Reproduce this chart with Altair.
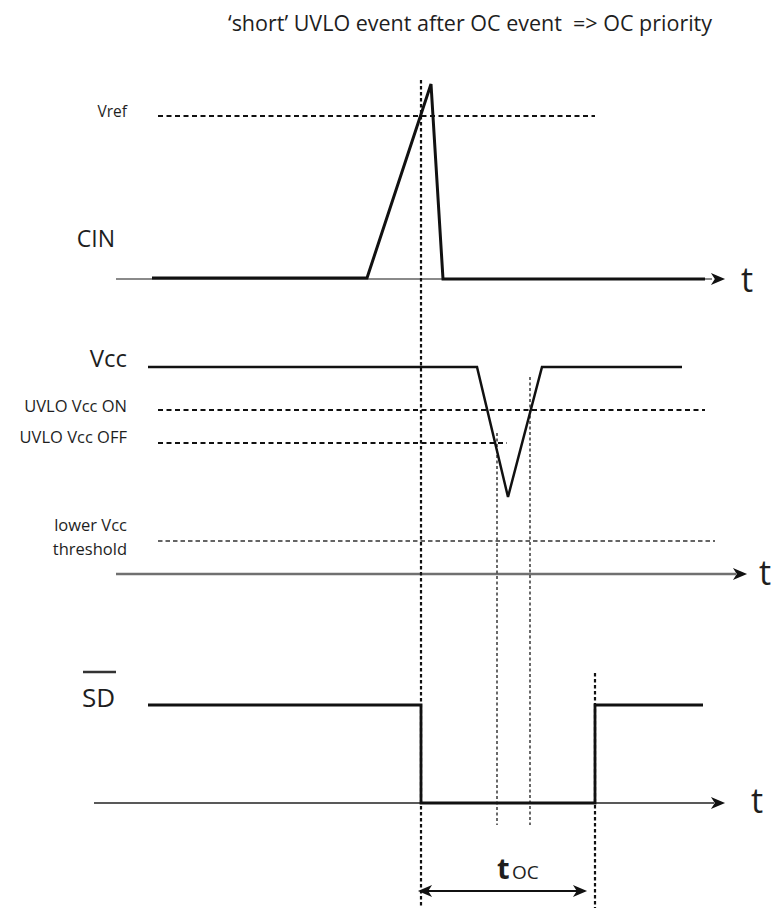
import altair as alt
import pandas as pd

# ---- data (diagram coordinates: time t to the right, level position downward) ----
TITLE = "\u2018short\u2019 UVLO event after OC event\u00a0\u00a0=> OC priority"

CIN_T = [152, 367, 431, 443, 705]
CIN_Y = [278, 278, 84, 279, 279]
VCC_T = [148, 477, 508, 542, 682]
VCC_Y = [367, 367, 497, 367, 367]
SD_T = [148, 421, 421, 595, 595, 703]
SD_Y = [705, 705, 803, 803, 705, 705]

# time axes: name, start, end, level
AXIS_NAMES = ["CIN", "Vcc", "SD"]
AXIS_START = [116, 116, 94]
AXIS_END = [712, 736, 714]
AXIS_Y = [279, 574, 803]
AXIS_TIP = [725, 747, 725]

# thresholds: name, start, end, level
THR_NAMES = ["Vref", "UVLO Vcc ON", "UVLO Vcc OFF", "lower Vcc threshold"]
THR_START = [158, 158, 158, 158]
THR_END = [595, 705, 507, 715]
THR_Y = [116, 410, 443, 541]

# event markers (vertical dotted lines)
EV_T = [421, 497, 530, 595]
EV_Y1 = [80, 433, 377, 673]
EV_Y2 = [923, 825, 825, 923]

# t_OC span
TOC_START = 418
TOC_END = 587
TOC_Y = 891

xs = alt.Scale(domain=[8, 773], nice=False, zero=False)
ys = alt.Scale(domain=[8, 908], reverse=True, nice=False, zero=False)
X = lambda f: alt.X(f, type="quantitative", scale=xs, axis=None)
Y = lambda f: alt.Y(f, type="quantitative", scale=ys, axis=None)

# signals
rows = []
for name, T, V in [("CIN", CIN_T, CIN_Y), ("Vcc", VCC_T, VCC_Y), ("SD", SD_T, SD_Y)]:
    for i, (t, v) in enumerate(zip(T, V)):
        rows.append({"sig": name, "i": i, "t": t, "v": v})
sig_df = pd.DataFrame(rows)

axes_df = pd.DataFrame({"name": AXIS_NAMES, "x1": AXIS_START, "x2": AXIS_END,
                        "y": AXIS_Y, "tip": AXIS_TIP})
axes_df["head"] = axes_df["tip"] - 7

thr_df = pd.DataFrame({"name": THR_NAMES, "x1": THR_START, "x2": THR_END, "y": THR_Y})
ev_df = pd.DataFrame({"t": EV_T, "y1": EV_Y1, "y2": EV_Y2})

arrow = "M 1 0 L -1 -0.85 L -0.45 0 L -1 0.85 Z"

layers = []

# time axes
ax_cin = alt.Chart(axes_df[axes_df.name == "CIN"]).mark_rule(color="#8a8a8a", strokeWidth=1.8).encode(
    x=X("x1"), x2="x2", y=Y("y"))
ax_vcc = alt.Chart(axes_df[axes_df.name == "Vcc"]).mark_rule(color="#707070", strokeWidth=2.6).encode(
    x=X("x1"), x2="x2", y=Y("y"))
ax_sd = alt.Chart(axes_df[axes_df.name == "SD"]).mark_rule(color="#222", strokeWidth=1.6).encode(
    x=X("x1"), x2="x2", y=Y("y"))
heads = alt.Chart(axes_df).mark_point(shape=arrow, filled=True, color="#111", opacity=1, size=200).encode(
    x=X("head"), y=Y("y"))
layers += [ax_cin, ax_vcc, ax_sd, heads]

# thresholds
thr_main = alt.Chart(thr_df[thr_df.name != "lower Vcc threshold"]).mark_rule(
    color="#111", strokeWidth=2.2, strokeDash=[5, 3.5]).encode(x=X("x1"), x2="x2", y=Y("y"))
thr_low = alt.Chart(thr_df[thr_df.name == "lower Vcc threshold"]).mark_rule(
    color="#333", strokeWidth=1.4, strokeDash=[4.5, 3]).encode(x=X("x1"), x2="x2", y=Y("y"))
layers += [thr_main, thr_low]

# event markers
ev_main = alt.Chart(ev_df[ev_df.t.isin([421, 595])]).mark_rule(
    color="#111", strokeWidth=2.2, strokeDash=[3.5, 2.5]).encode(x=X("t"), y=Y("y1"), y2="y2")
ev_thin = alt.Chart(ev_df[ev_df.t.isin([497, 530])]).mark_rule(
    color="#444", strokeWidth=1.6, strokeDash=[3, 2.5]).encode(x=X("t"), y=Y("y1"), y2="y2")
layers += [ev_main, ev_thin]

# signals
sig_cin = alt.Chart(sig_df[sig_df.sig == "CIN"]).mark_line(color="#111", strokeWidth=3).encode(
    x=X("t"), y=Y("v"), order="i:Q")
sig_vcc = alt.Chart(sig_df[sig_df.sig == "Vcc"]).mark_line(color="#111", strokeWidth=2.5).encode(
    x=X("t"), y=Y("v"), order="i:Q")
sig_sd = alt.Chart(sig_df[sig_df.sig == "SD"]).mark_line(color="#111", strokeWidth=2.8).encode(
    x=X("t"), y=Y("v"), order="i:Q")
layers += [sig_cin, sig_vcc, sig_sd]

# t_OC double arrow
toc_df = pd.DataFrame({"x1": [TOC_START + 2], "x2": [TOC_END - 2], "y": [TOC_Y]})
toc_line = alt.Chart(toc_df).mark_rule(color="#111", strokeWidth=2).encode(x=X("x1"), x2="x2", y=Y("y"))
toc_heads_df = pd.DataFrame({"x": [TOC_START + 7, TOC_END - 7], "y": [TOC_Y, TOC_Y], "ang": [180, 0]})
toc_heads = alt.Chart(toc_heads_df).mark_point(shape=arrow, filled=True, color="#111", opacity=1, size=200).encode(
    x=X("x"), y=Y("y"), angle=alt.Angle("ang:Q", scale=None))
layers += [toc_line, toc_heads]

# SD overbar
bar_df = pd.DataFrame({"x1": [83], "x2": [116], "y": [672]})
overbar = alt.Chart(bar_df).mark_rule(color="#333", strokeWidth=2.5).encode(x=X("x1"), x2="x2", y=Y("y"))
layers.append(overbar)

# labels
FONT = "Open Sans"
right_df = pd.DataFrame({
    "text": ["Vref", "CIN", "Vcc", "UVLO Vcc ON", "UVLO Vcc OFF", "lower Vcc", "threshold"],
    "x": [127, 115, 127, 127, 127, 127, 127],
    "y": [117, 247, 367, 412, 443, 531, 555],
    "fs": [15.5, 23, 24, 16.5, 16.5, 16.5, 16.5],
})
right_txt = alt.Chart(right_df).mark_text(align="right", baseline="alphabetic", font=FONT, color="#1e1e1e").encode(
    x=X("x"), y=Y("y"), text="text:N", size=alt.Size("fs:Q", scale=None))
left_df = pd.DataFrame({
    "text": ["SD", "t", "t", "t", "OC"],
    "x": [82, 741, 759, 751, 512],
    "y": [707, 292, 585, 813, 879],
    "fs": [26, 34, 34, 34, 19],
})
left_txt = alt.Chart(left_df).mark_text(align="left", baseline="alphabetic", font=FONT, color="#1e1e1e").encode(
    x=X("x"), y=Y("y"), text="text:N", size=alt.Size("fs:Q", scale=None))
toc_t = alt.Chart(pd.DataFrame({"text": ["t"], "x": [497], "y": [879]})).mark_text(
    align="left", baseline="alphabetic", font=FONT, fontSize=29, fontWeight="bold", color="#1e1e1e").encode(
    x=X("x"), y=Y("y"), text="text:N")
title_df = pd.DataFrame({"text": [TITLE], "x": [470], "y": [31]})
title_txt = alt.Chart(title_df).mark_text(align="center", baseline="alphabetic", font=FONT, fontSize=21.5,
                                          color="#1e1e1e").encode(x=X("x"), y=Y("y"), text="text:N")
layers += [right_txt, left_txt, toc_t, title_txt]

chart = alt.layer(*layers).properties(
    width=765, height=900, padding=0, autosize=alt.AutoSizeParams(type="none")
).configure_view(stroke=None)

chart.save("out.html", embed_options={"renderer": "svg", "actions": False})
